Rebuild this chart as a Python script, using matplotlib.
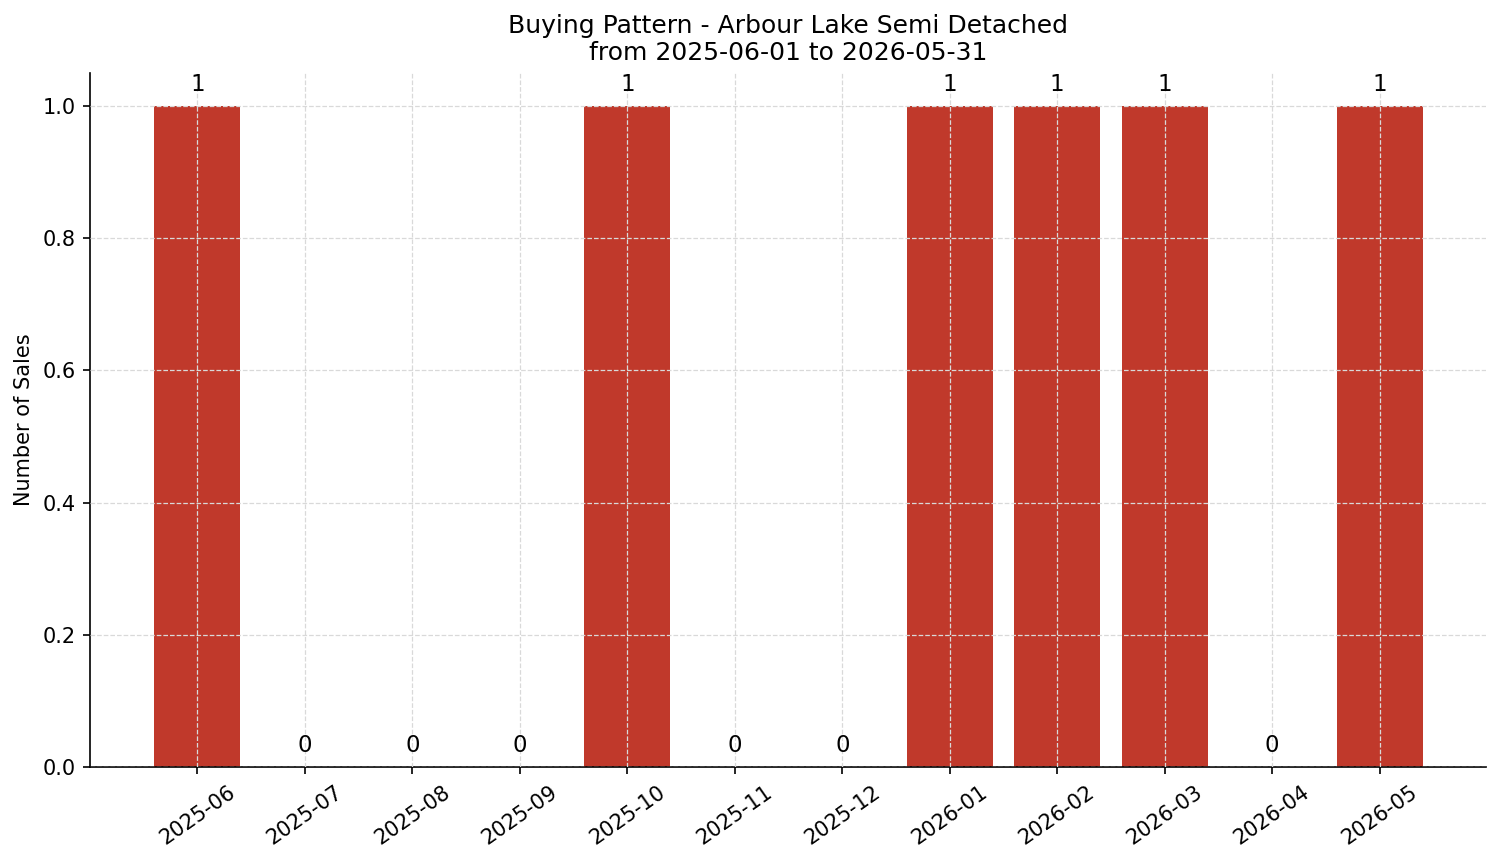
import matplotlib
matplotlib.use("Agg")
import matplotlib.pyplot as plt

months = ["2025-06","2025-07","2025-08","2025-09","2025-10","2025-11",
          "2025-12","2026-01","2026-02","2026-03","2026-04","2026-05"]
sales = [1,0,0,0,1,0,0,1,1,1,0,1]

fig = plt.figure(figsize=(1501/150, 863/150), dpi=150)
ax = fig.add_axes([90/1501, 1-767/863, (1486-90)/1501, (767-73)/863])
x = list(range(len(months)))
bars = ax.bar(x, sales, width=0.8, color="#c0392b", zorder=2)
for xi, v in zip(x, sales):
    ax.text(xi, v + 0.015, str(v), ha="center", va="bottom", fontsize=11)
ax.set_xticks(x)
ax.set_xticklabels(months, rotation=35, fontsize=10)
ax.tick_params(axis="y", labelsize=10)
ax.set_xlim(-1.0, 11.99)
ax.set_ylim(0, 1.05)
ax.set_ylabel("Number of Sales", fontsize=10)
ax.set_title("Buying Pattern - Arbour Lake Semi Detached\nfrom 2025-06-01 to 2026-05-31", fontsize=12)
ax.grid(True, linestyle="--", color="#d9d9d9", linewidth=0.6, zorder=3)
ax.set_axisbelow(False)
for s in ["top", "right"]:
    ax.spines[s].set_visible(False)
fig.savefig("out.png", dpi=150)
